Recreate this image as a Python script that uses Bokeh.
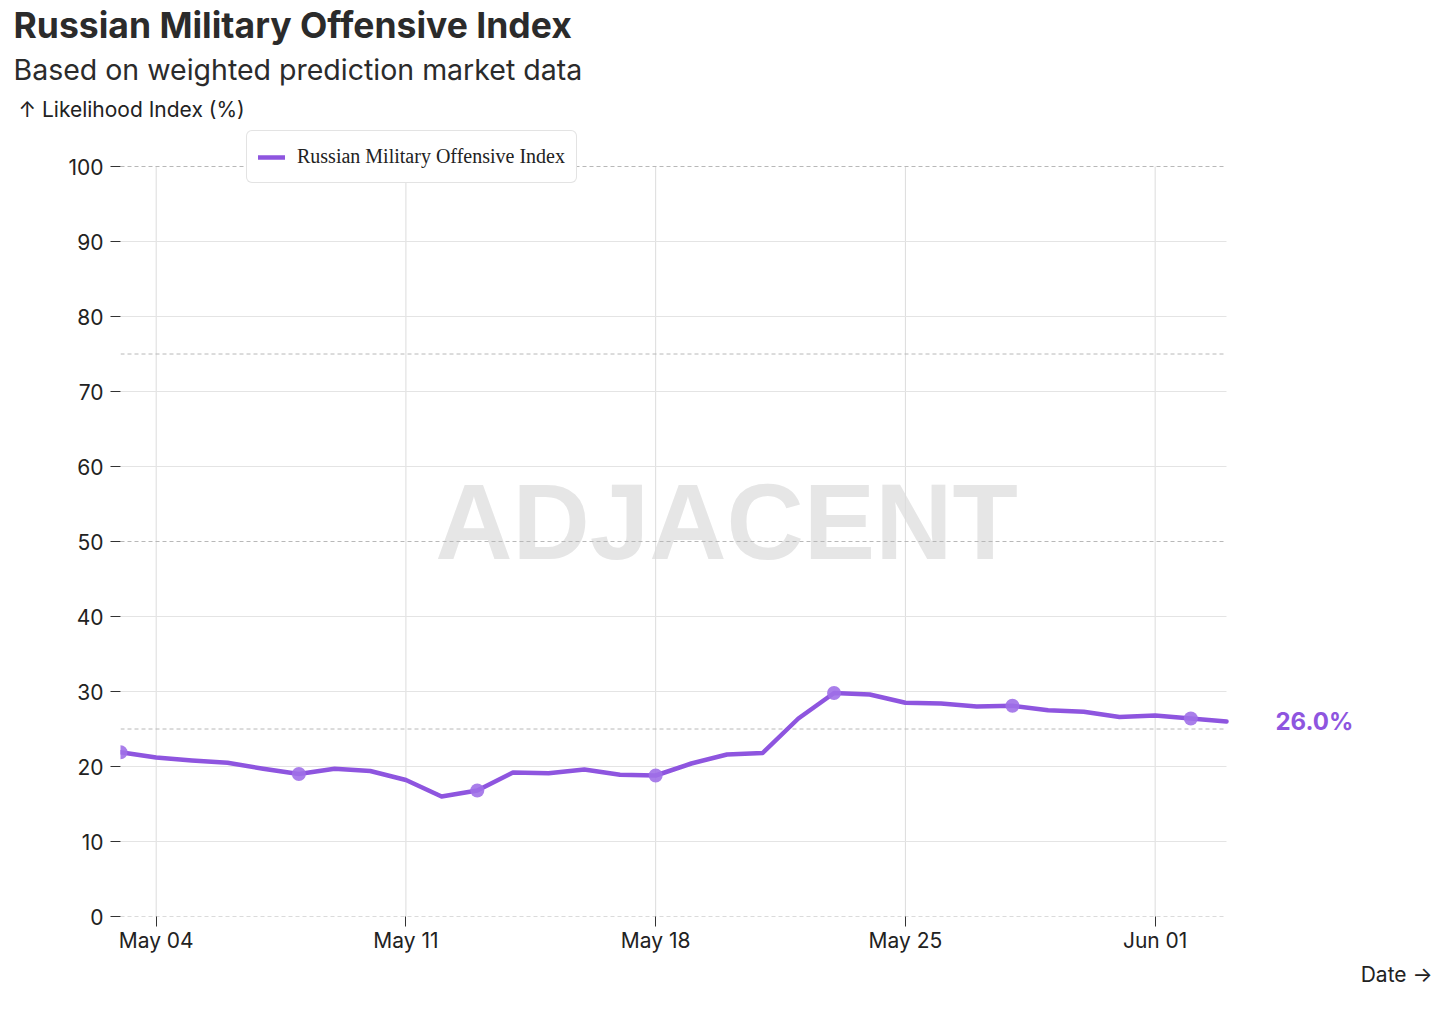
import pandas as pd
from bokeh.plotting import figure
from bokeh.models import (ColumnDataSource, FixedTicker, DatetimeTickFormatter,
                          Label, Legend, LegendItem, Range1d, Title)
from bokeh.embed import file_html
from bokeh.resources import INLINE

# ---------------- data ----------------
start_date = "2025-05-03"
end_date = "2025-06-03"
index_values = [21.9, 21.2, 20.8, 20.5, 19.7, 19.0, 19.7, 19.4, 18.2, 16.0,
                16.8, 19.2, 19.1, 19.6, 18.9, 18.8, 20.4, 21.6, 21.8, 26.4,
                29.8, 29.6, 28.5, 28.4, 28.0, 28.1, 27.5, 27.3, 26.6, 26.8,
                26.4, 26.0]
marker_every = 5
x_tick_dates = ["2025-05-04", "2025-05-11", "2025-05-18", "2025-05-25", "2025-06-01"]
y_ticks = [0, 10, 20, 30, 40, 50, 60, 70, 80, 90, 100]
y_grid_ticks = [10, 20, 30, 40, 60, 70, 80, 90]
reference_levels = [0, 25, 50, 75, 100]
series_name = "Russian Military Offensive Index"
title_text = "Russian Military Offensive Index"
subtitle_text = "Based on weighted prediction market data"
y_label_text = "↑ Likelihood Index (%)"
x_label_text = "Date →"
watermark_text = "ADJACENT"

PURPLE = "#8E55DF"
MARKER = "#A070E8"

# ---------------- layout geometry (pixels) ----------------
W, H = 1440, 994
FRAME_LEFT, FRAME_TOP, FRAME_BOTTOM = 120, 128, 916
PLOT_RIGHT = 1226            # where the data area ends
Y_MAX_PIX = 166              # pixel row of the 100 level

dates = pd.date_range(start_date, end_date, freq="D")
source = ColumnDataSource(dict(date=dates, value=index_values))
msrc = ColumnDataSource(dict(date=dates[::marker_every],
                             value=index_values[::marker_every]))

t0 = pd.Timestamp(start_date)
t1 = pd.Timestamp(end_date)
px_per_ms = (PLOT_RIGHT - FRAME_LEFT) / (t1 - t0).total_seconds() / 1000
x_end = t0 + pd.Timedelta(milliseconds=(W - FRAME_LEFT) / px_per_ms)
px_per_unit = (FRAME_BOTTOM - Y_MAX_PIX) / 100
y_end = (FRAME_BOTTOM - FRAME_TOP) / px_per_unit

p = figure(width=W, height=H, x_axis_type="datetime",
           output_backend="svg", toolbar_location=None,
           min_border_left=FRAME_LEFT, min_border_right=0,
           min_border_top=FRAME_TOP, min_border_bottom=H - FRAME_BOTTOM)
p.x_range = Range1d(t0, x_end)
p.y_range = Range1d(0, y_end)
p.outline_line_color = None
p.background_fill_color = "white"
p.border_fill_color = "white"
p.xgrid.visible = False
p.ygrid.visible = False

# axes
for ax in (p.xaxis, p.yaxis):
    ax.axis_line_color = None
    ax.major_tick_out = 10
    ax.major_tick_in = 0
    ax.minor_tick_line_color = None
    ax.major_tick_line_color = "#333333"
    ax.major_label_text_font = "Inter"
    ax.major_label_text_font_size = "21px"
    ax.major_label_text_color = "#222222"
p.yaxis.ticker = FixedTicker(ticks=y_ticks)
p.yaxis.major_label_standoff = 7
p.xaxis.ticker = FixedTicker(ticks=[pd.Timestamp(d).value // 10**6 for d in x_tick_dates])
p.xaxis.formatter = DatetimeTickFormatter(days="%b %d", months="%b %d")
p.xaxis.major_label_standoff = 1

# grid lines restricted to the data area
tick_ts = [pd.Timestamp(d) for d in x_tick_dates]
p.segment(x0=tick_ts, x1=tick_ts, y0=[0] * len(tick_ts), y1=[100] * len(tick_ts),
          line_color="#dcdcdc", line_width=1)
p.segment(x0=[t0] * len(y_grid_ticks), x1=[t1] * len(y_grid_ticks),
          y0=y_grid_ticks, y1=y_grid_ticks, line_color="#e4e4e4", line_width=1)
p.segment(x0=[t0] * len(reference_levels), x1=[t1] * len(reference_levels),
          y0=reference_levels, y1=reference_levels, line_color="#b8b8b8",
          line_dash="4 3", line_width=1)

# watermark
p.add_layout(Label(x=606, y=395, x_units="screen", y_units="screen",
                   text=watermark_text, text_font="Liberation Sans",
                   text_font_style="bold", text_font_size="107px",
                   text_color="#e6e6e6", text_align="center",
                   text_baseline="middle", level="image"))

line = p.line("date", "value", source=source, line_color=PURPLE, line_width=4.5,
              line_join="round", line_cap="round")
p.scatter("date", "value", source=msrc, size=14, fill_color=MARKER,
          line_color=None, fill_alpha=0.9)

legend = Legend(items=[LegendItem(label=series_name, renderers=[line])],
                location=(126, 733), orientation="vertical",
                border_line_color="#c8c8c8", border_line_width=1,
                background_fill_color="white", background_fill_alpha=1,
                label_text_font="Liberation Serif", label_text_font_size="20px",
                label_text_color="#222222", glyph_width=27, glyph_height=20,
                label_height=29, padding=11, margin=0, label_standoff=12)
try:
    legend.border_radius = 6
except Exception:
    pass
p.add_layout(legend)

# value label at the end of the line
p.add_layout(Label(x=1155, y=index_values[-1], x_units="screen", y_units="data",
                   text=f"{index_values[-1]:.1f}%", text_font="Inter",
                   text_font_style="bold", text_font_size="24px",
                   text_color=PURPLE, text_baseline="middle"))

# titles (added innermost first)
p.title.visible = False
p.add_layout(Title(text=y_label_text, text_font="Inter", text_font_size="21px",
                   text_font_style="normal", text_color="#222222",
                   align="left", offset=-102, standoff=13), "above")
p.add_layout(Title(text=subtitle_text, text_font="Inter", text_font_size="28.5px",
                   text_font_style="normal", text_color="#2b2b2b",
                   align="left", offset=-107, standoff=3), "above")
p.add_layout(Title(text=title_text, text_font="Inter", text_font_size="35.5px",
                   text_font_style="bold", text_color="#2b2b2b",
                   align="left", offset=-107, standoff=3), "above")
p.add_layout(Title(text=x_label_text, text_font="Inter", text_font_size="21px",
                   text_font_style="normal", text_color="#222222",
                   align="right", offset=8, standoff=9), "below")

open("out.html", "w").write(file_html(p, INLINE))
